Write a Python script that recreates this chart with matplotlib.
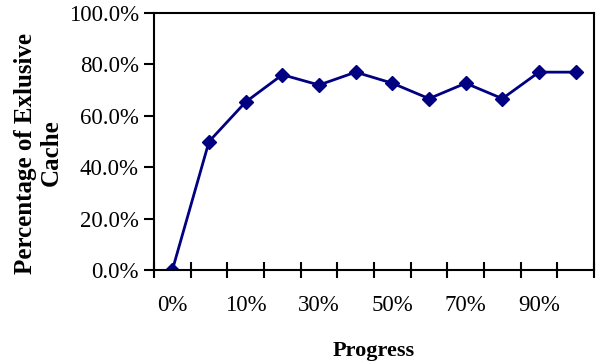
import numpy as np
import matplotlib.pyplot as plt

plt.rcParams['font.family'] = ['Liberation Serif', 'DejaVu Serif']

# data
progress = ['0%', '5%', '10%', '20%', '30%', '40%', '50%', '60%', '70%', '80%', '90%', '100%']
exclusive = [0.0, 50.0, 65.4, 76.0, 72.0, 77.0, 72.7, 66.7, 72.7, 66.7, 77.0, 77.0]

fig = plt.figure(figsize=(5.97, 3.62), dpi=100)
ax = fig.add_axes([0.258, 0.254, 0.737, 0.710])

x = np.arange(len(progress))
ax.plot(x, exclusive, color='#000080', lw=2, marker='D', ms=7.5)

ax.set_xlim(-0.5, len(progress) - 0.5)
ax.set_ylim(0, 100)

# category boundaries get tick marks, every other category gets a label
ax.set_xticks(np.arange(-0.5, len(progress)))
ax.set_xticklabels([])
ax.set_xticks(x[::2], minor=True)
ax.set_xticklabels(progress[::2], minor=True, fontsize=16.5)
ax.tick_params(axis='x', which='major', direction='inout', length=12, width=1.5)
ax.tick_params(axis='x', which='minor', length=0, pad=18)

ax.set_yticks(np.arange(0, 101, 20))
ax.set_yticklabels(['%.1f%%' % v for v in np.arange(0, 101, 20)], fontsize=16.5)
ax.tick_params(axis='y', direction='out', length=7, width=1.5, pad=4)

for s in ax.spines.values():
    s.set_linewidth(1.5)

ax.set_xlabel('Progress', fontsize=16, fontweight='bold', labelpad=18)
ax.set_ylabel('Percentage of Exlusive\nCache', fontsize=18, fontweight='bold',
              va='center', ha='center')
ax.yaxis.set_label_coords(-0.263, 0.455)

fig.savefig('out.png', dpi=100)
